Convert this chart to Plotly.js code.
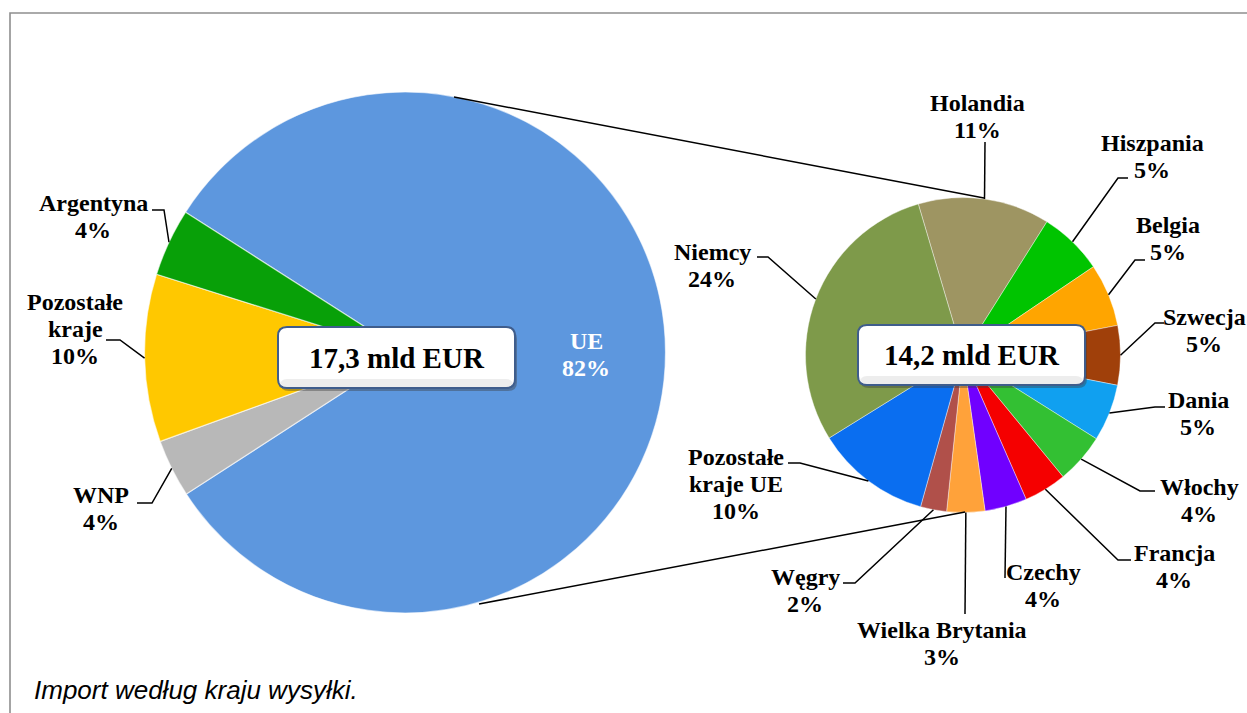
<!DOCTYPE html>
<html>
<head>
<meta charset="utf-8">
<script src="https://cdn.plot.ly/plotly-3.0.1.min.js"></script>
<style>html,body{margin:0;padding:0;background:#fff;}#chart{width:1247px;height:713px;}</style>
</head>
<body>
<div id="chart"></div>
<script>
// ---- data ----
const leftLabels = ['UE', 'WNP', 'Pozostałe kraje', 'Argentyna'];
const leftValues = [81.8, 3.6, 10.4, 4.2];
const leftColors = ['#5D97DE', '#B8B8B8', '#FFC800', '#08A008'];
const leftNameLines = [['UE'], ['WNP'], ['Pozostałe', 'kraje'], ['Argentyna']];

const rightLabels = ['Holandia', 'Hiszpania', 'Belgia', 'Szwecja', 'Dania', 'Włochy', 'Francja', 'Czechy', 'Wielka Brytania', 'Węgry', 'Pozostałe kraje UE', 'Niemcy'];
const rightValues = [11.1, 5.4, 5.3, 5.0, 4.8, 4.2, 3.6, 3.55, 3.2, 2.2, 9.7, 24.0];
const rightColors = ['#9E9562', '#00C400', '#FFA500', '#A0400A', '#10A0F0', '#33C033', '#F50000', '#7000FF', '#FFA23A', '#B0504A', '#0A6EF0', '#7E9A4A'];
const rightNameLines = [['Holandia'], ['Hiszpania'], ['Belgia'], ['Szwecja'], ['Dania'], ['Włochy'], ['Francja'], ['Czechy'], ['Wielka Brytania'], ['Węgry'], ['Pozostałe', 'kraje UE'], ['Niemcy']];

const totals = ['17,3 mld EUR', '14,2 mld EUR'];
const footnote = 'Import według kraju wysyłki.';

// ---- layout geometry (pixels) ----
const W = 1247, H = 713;
const px = x => x / W;
const py = y => 1 - y / H;
const L = {cx: 405, cy: 352.5, r: 260.5, rot: -57.4};
const R = {cx: 963, cy: 355, r: 157.5, rot: -16.5};

function midAngles(values, rot) {
  const tot = values.reduce((a, b) => a + b, 0);
  let a = rot;
  return values.map(v => { const m = a + v / tot * 180; a += v / tot * 360; return m; });
}
function anchor(p, deg) {
  const t = deg * Math.PI / 180;
  return [p.cx + p.r * Math.sin(t), p.cy - p.r * Math.cos(t)];
}

// label placement: text center x, first line center y, leader points after anchor
const leftPlace = [
  null,
  {x: 101, y: 495, pts: [[152, 503], [137, 503]]},
  {x: 75, y: 302, pts: [[120, 340], [106, 340]]},
  {x: 93, y: 203, pts: [[164, 210], [152, 210]]}
];
const rightPlace = [
  {x: 977, y: 103, pts: [[985, 142]]},
  {x: 1152, y: 143, pts: [[1118, 178], [1128, 178]]},
  {x: 1168, y: 225, pts: [[1135, 260], [1145, 260]]},
  {x: 1204, y: 317, pts: [[1155, 323], [1164, 323]]},
  {x: 1198, y: 400, pts: [[1155, 407], [1165, 407]]},
  {x: 1199, y: 487, pts: [[1140, 491], [1155, 491]]},
  {x: 1174, y: 553, pts: [[1118, 560], [1131, 560]]},
  {x: 1043, y: 572, pts: [[1005, 578]]},
  {x: 942, y: 630, pts: [[965, 614]]},
  {x: 805, y: 577, pts: [[855, 583], [843, 583]]},
  {x: 736, y: 457, pts: [[800, 463], [788, 463]]},
  {x: 712, y: 252, pts: [[768, 257], [757, 257]]}
];

const lineH = 27;
const labelFont = {family: 'Liberation Serif, Times New Roman, serif', size: 24, color: '#000', weight: 'bold'};
const annotations = [];
const shapes = [];

// frame
shapes.push({type: 'rect', xref: 'paper', yref: 'paper', x0: px(10), y0: py(730), x1: px(1260), y1: py(13),
  line: {color: '#8E8E8E', width: 1.6}, fillcolor: 'rgba(0,0,0,0)', layer: 'below'});

// connector lines between pies
shapes.push({type: 'line', xref: 'paper', yref: 'paper', x0: px(454), y0: py(97), x1: px(984), y1: py(198), line: {color: '#000', width: 1.5}});
shapes.push({type: 'line', xref: 'paper', yref: 'paper', x0: px(479), y0: py(604), x1: px(965), y1: py(512), line: {color: '#000', width: 1.5}});

function addLabels(p, values, nameLines, place) {
  const mids = midAngles(values, p.rot);
  values.forEach((v, i) => {
    const pl = place[i];
    if (!pl) return;
    const lines = nameLines[i].concat([Math.round(v) + '%']);
    lines.forEach((t, k) => {
      annotations.push({xref: 'paper', yref: 'paper', x: px(pl.x), y: py(pl.y + k * lineH), text: t,
        showarrow: false, xanchor: 'center', yanchor: 'middle', font: labelFont, borderpad: 0});
    });
    const a = anchor(p, mids[i]);
    let d = 'M' + px(a[0]) + ',' + py(a[1]);
    pl.pts.forEach(q => { d += ' L' + px(q[0]) + ',' + py(q[1]); });
    shapes.push({type: 'path', xref: 'paper', yref: 'paper', path: d, line: {color: '#000', width: 1.5}});
  });
}
addLabels(L, leftValues, leftNameLines, leftPlace);
addLabels(R, rightValues, rightNameLines, rightPlace);

// UE label inside slice
['UE', Math.round(leftValues[0]) + '%'].forEach((t, k) => {
  annotations.push({xref: 'paper', yref: 'paper', x: px(586), y: py(341 + k * 27), text: t, showarrow: false,
    xanchor: 'center', yanchor: 'middle', font: Object.assign({}, labelFont, {color: '#FFFFFF'})});
});

// total boxes (rounded rectangles)
function roundRect(x0, y0, x1, y1, r) {
  const X = px, Y = py;
  return 'M' + X(x0 + r) + ',' + Y(y0) + ' L' + X(x1 - r) + ',' + Y(y0) +
    ' Q' + X(x1) + ',' + Y(y0) + ' ' + X(x1) + ',' + Y(y0 + r) +
    ' L' + X(x1) + ',' + Y(y1 - r) + ' Q' + X(x1) + ',' + Y(y1) + ' ' + X(x1 - r) + ',' + Y(y1) +
    ' L' + X(x0 + r) + ',' + Y(y1) + ' Q' + X(x0) + ',' + Y(y1) + ' ' + X(x0) + ',' + Y(y1 - r) +
    ' L' + X(x0) + ',' + Y(y0 + r) + ' Q' + X(x0) + ',' + Y(y0) + ' ' + X(x0 + r) + ',' + Y(y0) + ' Z';
}
const boxes = [
  {x0: 278, y0: 327, x1: 515, y1: 388},
  {x0: 858, y0: 325, x1: 1085, y1: 385}
];
boxes.forEach((b, i) => {
  shapes.push({type: 'path', xref: 'paper', yref: 'paper', path: roundRect(b.x0 + 2, b.y0 + 3, b.x1 + 2, b.y1 + 3, 9),
    fillcolor: 'rgba(60,60,60,0.4)', line: {width: 0}});
  shapes.push({type: 'path', xref: 'paper', yref: 'paper', path: roundRect(b.x0, b.y0, b.x1, b.y1, 9),
    fillcolor: '#FFFFFF', line: {color: '#3F5D8C', width: 2}});
  shapes.push({type: 'path', xref: 'paper', yref: 'paper', path: roundRect(b.x0 + 2, b.y1 - 9, b.x1 - 2, b.y1 - 1, 7),
    fillcolor: 'rgba(215,215,215,0.45)', line: {width: 0}});
  annotations.push({xref: 'paper', yref: 'paper', x: px((b.x0 + b.x1) / 2), y: py((b.y0 + b.y1) / 2), text: totals[i],
    showarrow: false, xanchor: 'center', yanchor: 'middle',
    font: {family: 'Liberation Serif, Times New Roman, serif', size: 29, color: '#000', weight: 'bold'}});
});

// footnote
annotations.push({xref: 'paper', yref: 'paper', x: px(32), y: py(690), text: footnote, showarrow: false,
  xanchor: 'left', yanchor: 'middle',
  font: {family: 'Liberation Sans, Arial, sans-serif', size: 26, color: '#000', style: 'italic'}});

const data = [
  {type: 'pie', labels: leftLabels, values: leftValues, sort: false, direction: 'clockwise', rotation: L.rot,
    marker: {colors: leftColors, line: {color: 'rgba(255,255,255,0.6)', width: 1.2}},
    textinfo: 'none', hoverinfo: 'label+percent', showlegend: false,
    domain: {x: [px(L.cx - L.r), px(L.cx + L.r)], y: [py(L.cy + L.r), py(L.cy - L.r)]}},
  {type: 'pie', labels: rightLabels, values: rightValues, sort: false, direction: 'clockwise', rotation: R.rot,
    marker: {colors: rightColors, line: {color: 'rgba(255,255,255,0.5)', width: 0.8}},
    textinfo: 'none', hoverinfo: 'label+value', showlegend: false,
    domain: {x: [px(R.cx - R.r), px(R.cx + R.r)], y: [py(R.cy + R.r), py(R.cy - R.r)]}}
];

const layout = {
  width: W, height: H, margin: {l: 0, r: 0, t: 0, b: 0},
  paper_bgcolor: '#FFFFFF', plot_bgcolor: '#FFFFFF', showlegend: false,
  shapes: shapes, annotations: annotations
};
Plotly.newPlot('chart', data, layout, {displayModeBar: false, staticPlot: true});
</script>
</body>
</html>
